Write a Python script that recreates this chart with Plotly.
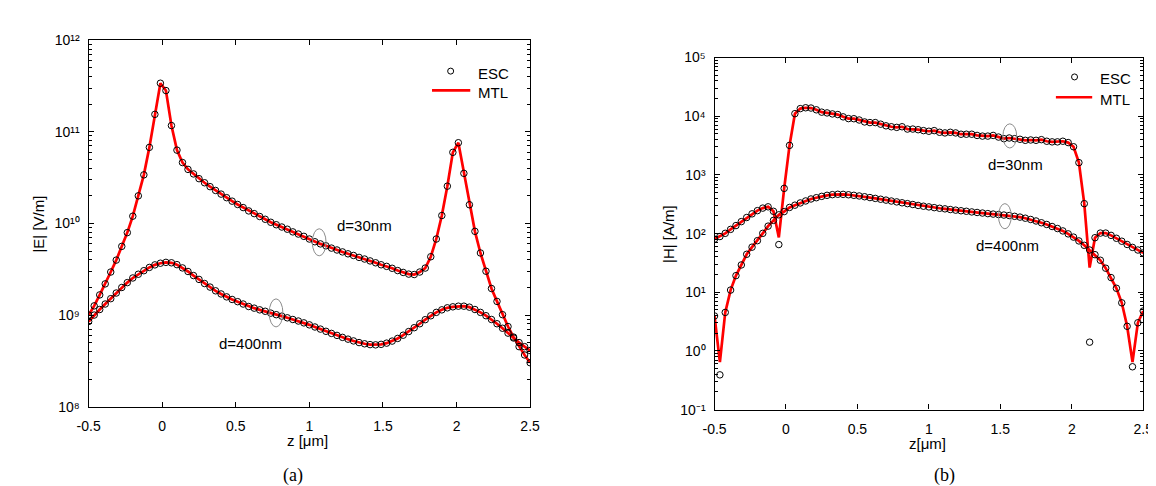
import plotly.graph_objects as go

# ---------------- data ----------------
Z = [-0.5, -0.4625, -0.425, -0.3875, -0.35, -0.3125, -0.275, -0.2375, -0.2, -0.1625,
     -0.125, -0.0875, -0.05, -0.0125, 0.025, 0.0625, 0.1, 0.1375, 0.175, 0.2125,
     0.25, 0.2875, 0.325, 0.3625, 0.4, 0.4375, 0.475, 0.5125, 0.55, 0.5875,
     0.625, 0.6625, 0.7, 0.7375, 0.775, 0.8125, 0.85, 0.8875, 0.925, 0.9625,
     1.0, 1.0375, 1.075, 1.1125, 1.15, 1.1875, 1.225, 1.2625, 1.3, 1.3375,
     1.375, 1.4125, 1.45, 1.4875, 1.525, 1.5625, 1.6, 1.6375, 1.675, 1.7125,
     1.75, 1.7875, 1.825, 1.8625, 1.9, 1.9375, 1.975, 2.0125, 2.05, 2.0875,
     2.125, 2.1625, 2.2, 2.2375, 2.275, 2.3125, 2.35, 2.3875, 2.425, 2.4625,
     2.5]

# (a) |E| [V/m], d = 30 nm
E30_ESC = [1.00e9, 1.26e9, 1.66e9, 2.19e9, 2.95e9, 3.98e9, 5.62e9, 7.94e9, 1.20e10, 2.00e10,
           3.39e10, 6.76e10, 1.55e11, 3.39e11, 2.82e11, 1.17e11, 6.31e10, 4.62e10, 3.89e10, 3.47e10,
           3.08e10, 2.78e10, 2.52e10, 2.29e10, 2.09e10, 1.91e10, 1.75e10, 1.61e10, 1.49e10, 1.37e10,
           1.28e10, 1.19e10, 1.11e10, 1.03e10, 9.68e9, 9.14e9, 8.65e9, 8.09e9, 7.66e9, 7.23e9,
           6.76e9, 6.31e9, 5.98e9, 5.70e9, 5.38e9, 5.13e9, 4.89e9, 4.66e9, 4.47e9, 4.26e9,
           4.09e9, 3.90e9, 3.72e9, 3.54e9, 3.40e9, 3.24e9, 3.06e9, 2.92e9, 2.80e9, 2.77e9,
           2.95e9, 3.26e9, 4.33e9, 6.76e9, 1.22e10, 2.55e10, 5.97e10, 7.60e10, 3.52e10, 1.60e10,
           8.20e9, 4.76e9, 3.01e9, 1.95e9, 1.41e9, 1.01e9, 7.50e8, 5.75e8, 4.52e8, 3.67e8,
           3.02e8]
E30_MTL = [1.00e9, 1.26e9, 1.66e9, 2.19e9, 2.95e9, 3.98e9, 5.62e9, 7.94e9, 1.20e10, 2.00e10,
           3.39e10, 6.76e10, 1.55e11, 3.39e11, 2.82e11, 1.17e11, 6.31e10, 4.62e10, 3.89e10, 3.47e10,
           3.08e10, 2.78e10, 2.52e10, 2.29e10, 2.09e10, 1.91e10, 1.75e10, 1.61e10, 1.49e10, 1.37e10,
           1.28e10, 1.19e10, 1.11e10, 1.03e10, 9.68e9, 9.14e9, 8.65e9, 8.09e9, 7.66e9, 7.23e9,
           6.76e9, 6.31e9, 5.98e9, 5.70e9, 5.38e9, 5.13e9, 4.89e9, 4.66e9, 4.47e9, 4.26e9,
           4.09e9, 3.90e9, 3.72e9, 3.54e9, 3.40e9, 3.24e9, 3.06e9, 2.92e9, 2.80e9, 2.77e9,
           2.95e9, 3.26e9, 4.33e9, 6.76e9, 1.22e10, 2.55e10, 5.97e10, 7.60e10, 3.52e10, 1.60e10,
           8.20e9, 4.76e9, 3.01e9, 1.95e9, 1.41e9, 1.01e9, 7.50e8, 5.75e8, 4.52e8, 3.67e8,
           3.02e8]

# (a) |E| [V/m], d = 400 nm
E400_ESC = [8.51e8, 1.00e9, 1.15e9, 1.32e9, 1.51e9, 1.74e9, 2.00e9, 2.26e9, 2.54e9, 2.79e9,
            3.05e9, 3.31e9, 3.53e9, 3.68e9, 3.76e9, 3.72e9, 3.55e9, 3.27e9, 2.99e9, 2.70e9,
            2.45e9, 2.21e9, 2.02e9, 1.84e9, 1.70e9, 1.58e9, 1.48e9, 1.40e9, 1.32e9, 1.24e9,
            1.19e9, 1.14e9, 1.10e9, 1.05e9, 1.01e9, 9.73e8, 9.33e8, 8.95e8, 8.61e8, 8.22e8,
            7.82e8, 7.41e8, 7.03e8, 6.65e8, 6.31e8, 6.00e8, 5.71e8, 5.46e8, 5.22e8, 5.01e8,
            4.86e8, 4.76e8, 4.73e8, 4.79e8, 4.94e8, 5.20e8, 5.56e8, 6.03e8, 6.61e8, 7.28e8,
            8.04e8, 8.91e8, 9.82e8, 1.07e9, 1.14e9, 1.20e9, 1.23e9, 1.25e9, 1.25e9, 1.22e9,
            1.15e9, 1.07e9, 9.84e8, 8.95e8, 8.04e8, 7.18e8, 6.35e8, 5.62e8, 5.01e8, 4.52e8,
            4.10e8]
E400_MTL = [8.51e8, 1.00e9, 1.15e9, 1.32e9, 1.51e9, 1.74e9, 2.00e9, 2.26e9, 2.54e9, 2.79e9,
            3.05e9, 3.31e9, 3.53e9, 3.68e9, 3.76e9, 3.72e9, 3.55e9, 3.27e9, 2.99e9, 2.70e9,
            2.45e9, 2.21e9, 2.02e9, 1.84e9, 1.70e9, 1.58e9, 1.48e9, 1.40e9, 1.32e9, 1.24e9,
            1.19e9, 1.14e9, 1.10e9, 1.05e9, 1.01e9, 9.73e8, 9.33e8, 8.95e8, 8.61e8, 8.22e8,
            7.82e8, 7.41e8, 7.03e8, 6.65e8, 6.31e8, 6.00e8, 5.71e8, 5.46e8, 5.22e8, 5.01e8,
            4.86e8, 4.76e8, 4.73e8, 4.79e8, 4.94e8, 5.20e8, 5.56e8, 6.03e8, 6.61e8, 7.28e8,
            8.04e8, 8.91e8, 9.82e8, 1.07e9, 1.14e9, 1.20e9, 1.23e9, 1.25e9, 1.25e9, 1.22e9,
            1.15e9, 1.07e9, 9.84e8, 8.95e8, 8.04e8, 7.18e8, 6.35e8, 5.62e8, 5.01e8, 4.52e8,
            4.10e8]

# (b) |H| [A/m], d = 30 nm
H30_ESC = [80.5, 89.1, 101, 118, 137, 160, 188, 217, 246, 272,
           286, 240, 65.0, 590, 3190, 11070, 13490, 13960, 13800, 12880,
           11750, 11400, 10960, 10690, 9770, 9120, 9080, 8630, 8000, 7800,
           7800, 7330, 6870, 6620, 6460, 6620, 6050, 6050, 5900, 5690,
           5550, 5690, 5330, 5200, 5330, 5200, 4940, 4940, 4940, 4710,
           4590, 4590, 4710, 4420, 4150, 4260, 4150, 4050, 3890, 3940,
           3890, 3990, 3750, 3660, 3660, 3750, 3560, 3020, 1620, 324,
           1.41, 85.1, 102, 102, 93.3, 83.2, 74.1, 65.3, 58.2, 52.5,
           46.8]
H30_MTL = [80.5, 89.1, 101, 118, 137, 160, 188, 217, 246, 272,
           286, 240, 85.9, 590, 3190, 11070, 13490, 13960, 13800, 12880,
           11750, 11400, 10960, 10690, 9770, 9120, 9080, 8630, 8000, 7800,
           7800, 7330, 6870, 6620, 6460, 6620, 6050, 6050, 5900, 5690,
           5550, 5690, 5330, 5200, 5330, 5200, 4940, 4940, 4940, 4710,
           4590, 4590, 4710, 4420, 4150, 4260, 4150, 4050, 3890, 3940,
           3890, 3990, 3750, 3660, 3660, 3750, 3560, 3020, 1620, 324,
           26.3, 85.1, 102, 102, 93.3, 83.2, 74.1, 65.3, 58.2, 52.5,
           46.8]

# (b) |H| [A/m], d = 400 nm
H400_ESC = [3.94, 0.391, 4.53, 10.9, 19.2, 29.2, 44.4, 58.7, 75.7, 101,
            134, 168, 209, 237, 279, 305, 333, 360, 389, 409,
            431, 449, 461, 468, 466, 459, 449, 438, 425, 411,
            398, 385, 372, 359, 347, 335, 324, 313, 302, 293,
            285, 277, 270, 264, 257, 251, 245, 240, 234, 229,
            224, 219, 215, 211, 207, 203, 197, 191, 183, 174,
            164, 153, 143, 132, 122, 111, 98.9, 87.1, 75.0, 63.1,
            52.5, 43.7, 35.1, 25.7, 17.8, 11.7, 6.61, 2.63, 0.537, 3.02,
            4.79]
H400_MTL = [3.94, 0.646, 4.53, 10.9, 19.2, 29.2, 44.4, 58.7, 75.7, 101,
            134, 168, 209, 237, 279, 305, 333, 360, 389, 409,
            431, 449, 461, 468, 466, 459, 449, 438, 425, 411,
            398, 385, 372, 359, 347, 335, 324, 313, 302, 293,
            285, 277, 270, 264, 257, 251, 245, 240, 234, 229,
            224, 219, 215, 211, 207, 203, 197, 191, 183, 174,
            164, 153, 143, 132, 122, 111, 98.9, 87.1, 75.0, 63.1,
            52.5, 43.7, 35.1, 25.7, 17.8, 11.7, 6.61, 2.63, 0.646, 3.02,
            4.79]

X_TICKS = [-0.5, 0, 0.5, 1, 1.5, 2, 2.5]
X_TICKTEXT = ["-0.5", "0", "0.5", "1", "1.5", "2", "2.5"]
E_TICKVALS = [1e8, 1e9, 1e10, 1e11, 1e12]
E_TICKTEXT = ["10⁸", "10⁹", "10¹⁰", "10¹¹", "10¹²"]
H_TICKVALS = [1e-1, 1e0, 1e1, 1e2, 1e3, 1e4, 1e5]
H_TICKTEXT = ["10⁻¹", "10⁰", "10¹", "10²", "10³", "10⁴", "10⁵"]

# ---------------- styling / geometry ----------------
W, HGT = 1156, 486
FONT = "Arial, 'Liberation Sans', sans-serif"
SERIF = "'Times New Roman', 'Liberation Serif', serif"
RED = "#ff0000"


def fx(p):
    return p / W


def fy(p):
    return 1 - p / HGT


def minor_ticks(major):
    return [k * m for m in major[:-1] for k in range(2, 10)]


fig = go.Figure()

panels = [
    ("x", "y", E30_MTL, E400_MTL, E30_ESC, E400_ESC),
    ("x2", "y2", H30_MTL, H400_MTL, H30_ESC, H400_ESC),
]
for xa, ya, m30, m400, e30, e400 in panels:
    for name, ys in (("MTL d=30nm", m30), ("MTL d=400nm", m400)):
        fig.add_trace(go.Scatter(x=Z, y=ys, mode="lines", name=name,
                                 line=dict(color=RED, width=2.7),
                                 xaxis=xa, yaxis=ya, showlegend=False))
    for name, ys in (("ESC d=30nm", e30), ("ESC d=400nm", e400)):
        fig.add_trace(go.Scatter(x=Z, y=ys, mode="markers", name=name,
                                 marker=dict(symbol="circle-open", size=6.5, color="black",
                                             line=dict(width=1, color="black")),
                                 xaxis=xa, yaxis=ya, showlegend=False))

common_axis = dict(showline=True, linecolor="black", linewidth=1.3, mirror="allticks",
                   ticks="inside", ticklen=5, tickwidth=1, tickcolor="black",
                   showgrid=False, zeroline=False,
                   tickfont=dict(family=FONT, size=14, color="black"))

minor_style = dict(ticks="inside", ticklen=3, tickwidth=1, tickcolor="black", showgrid=False)

fig.update_layout(
    width=W, height=HGT,
    margin=dict(l=0, r=0, t=0, b=0),
    paper_bgcolor="white", plot_bgcolor="white",
    showlegend=False,
    xaxis=dict(domain=[fx(70), fx(520)], range=[-0.5, 2.5], anchor="y",
               tickmode="array", tickvals=X_TICKS, ticktext=X_TICKTEXT,
               ticklabelstandoff=6, **common_axis),
    yaxis=dict(domain=[fy(404), fy(25)], type="log", range=[8, 12], anchor="x",
               tickmode="array", tickvals=E_TICKVALS, ticktext=E_TICKTEXT, ticklabelstandoff=5,
               minor=dict(tickmode="array", tickvals=minor_ticks(E_TICKVALS), **minor_style),
               **common_axis),
    xaxis2=dict(domain=[fx(708), fx(1145)], range=[-0.5, 2.5], anchor="y2",
                tickmode="array", tickvals=X_TICKS, ticktext=X_TICKTEXT,
                ticklabelstandoff=6, **common_axis),
    yaxis2=dict(domain=[fy(407), fy(43)], type="log", range=[-1, 5], anchor="x2",
                tickmode="array", tickvals=H_TICKVALS, ticktext=H_TICKTEXT, ticklabelstandoff=5,
                minor=dict(tickmode="array", tickvals=minor_ticks(H_TICKVALS), **minor_style),
                **common_axis),
)

ann = []


def text(x, y, s, size=15, family=FONT, angle=0, xanchor="center"):
    ann.append(dict(x=fx(x), y=fy(y), xref="paper", yref="paper", text=s, showarrow=False,
                    xanchor=xanchor, yanchor="middle", textangle=angle,
                    font=dict(family=family, size=size, color="black")))


# axis titles & captions
text(19, 215, "|E| [V/m]", angle=-90)
text(293, 439, "z [μm]")
text(278, 475, "(a)", size=18, family=SERIF)
text(661, 225, "|H| [A/m]", angle=-90)
text(925, 442, "z[μm]")
text(942, 475, "(b)", size=18, family=SERIF)

# curve labels
text(351, 217, "d=30nm")
text(235, 339, "d=400nm")
text(1015, 154, "d=30nm")
text(1007, 237, "d=400nm")

# legends
text(465, 59, "ESC", xanchor="left")
text(465, 79, "MTL", xanchor="left")
text(1099, 65, "ESC", xanchor="left")
text(1099, 86, "MTL", xanchor="left")

shapes = []


def ellipse(cx, cy, w, h):
    shapes.append(dict(type="circle", xref="paper", yref="paper",
                       x0=fx(cx - w / 2), x1=fx(cx + w / 2), y0=fy(cy + h / 2), y1=fy(cy - h / 2),
                       line=dict(color="#8c8c8c", width=1)))


ellipse(305, 234, 14, 28)
ellipse(261, 307, 14, 29)
ellipse(1009, 124, 14, 25)
ellipse(1004, 207, 13, 26)


def legend_marker(cx, cy):
    shapes.append(dict(type="circle", xref="paper", yref="paper",
                       xsizemode="pixel", ysizemode="pixel",
                       xanchor=fx(cx), yanchor=fy(cy), x0=-3, x1=3, y0=-3, y1=3,
                       line=dict(color="black", width=1)))


def legend_line(x0, x1, cy):
    shapes.append(dict(type="line", xref="paper", yref="paper",
                       x0=fx(x0), x1=fx(x1), y0=fy(cy), y1=fy(cy),
                       line=dict(color=RED, width=2.7)))


legend_marker(439, 57)
legend_line(420, 459, 77)
legend_marker(1075, 63)
legend_line(1056, 1093, 84)

fig.update_layout(annotations=ann, shapes=shapes)

fig.write_html("out.html")
